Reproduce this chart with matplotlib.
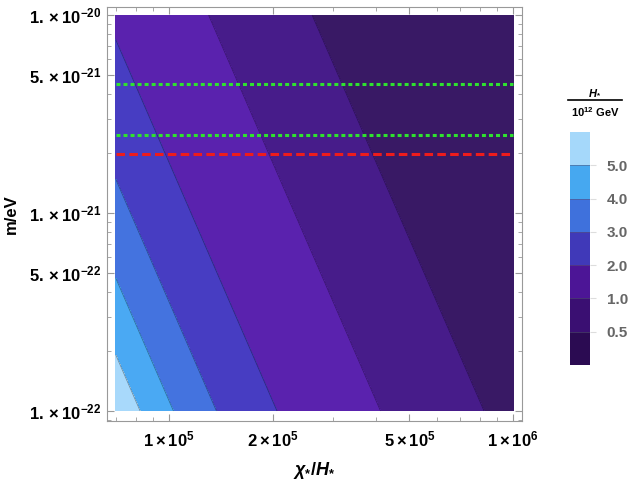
import numpy as np
import matplotlib
matplotlib.use("Agg")
import matplotlib.pyplot as plt
from matplotlib.lines import Line2D
from matplotlib.colors import ListedColormap, BoundaryNorm
from matplotlib.cm import ScalarMappable

plt.rcParams['font.family'] = ['Liberation Sans', 'DejaVu Sans']
plt.rcParams['mathtext.fontset'] = 'custom'
plt.rcParams['mathtext.rm'] = 'Liberation Sans:bold'
plt.rcParams['mathtext.bf'] = 'Liberation Sans:bold'
plt.rcParams['mathtext.it'] = 'Liberation Sans:bold:italic'
plt.rcParams['mathtext.default'] = 'bf'

# values
levels = [0.5, 1.0, 2.0, 3.0, 4.0, 5.0]
level_labels = ["0.5", "1.0", "2.0", "3.0", "4.0", "5.0"]
band_colors = ["#391965", "#471c8a", "#5a22ae", "#473dc2", "#4473df", "#4aa9f3", "#a8d9fb"]
cbar_colors = ["#2b0b52", "#3a0f72", "#4c1596", "#4039b8", "#3f71dc", "#46a8f0", "#a5d8fa"]
chi_range = [7.0e4, 1.0e6]
m_range = [1.0e-22, 1.0e-20]
# H_*/(10^12 GeV) = h_norm * (chi_*/H_*)^chi_power * (m / 1e-22 eV)^m_power
h_norm = 4.12e5
chi_power = -1.0
m_power = -0.25
green_lines = [4.46e-21, 2.47e-21]
red_lines = [1.98e-21]
xticks = [1e5, 2e5, 5e5, 1e6]
xticklabels = [r'$1\times10^{5}$', r'$2\times10^{5}$', r'$5\times10^{5}$', r'$1\times10^{6}$']
yticks = [1e-22, 5e-22, 1e-21, 5e-21, 1e-20]
yticklabels = [r'$1.\times10^{-22}$', r'$5.\times10^{-22}$', r'$1.\times10^{-21}$',
               r'$5.\times10^{-21}$', r'$1.\times10^{-20}$']

chi = np.logspace(np.log10(chi_range[0]), np.log10(chi_range[1]), 400)
m = np.logspace(np.log10(m_range[0]), np.log10(m_range[1]), 400)
CHI, M = np.meshgrid(chi, m)
H = h_norm * CHI**chi_power * (M / 1e-22)**m_power

fig = plt.figure(figsize=(6.36, 4.8), dpi=100)
ax = fig.add_axes([107/636, 59/480, 415/636, 414/480])

cs = ax.contourf(CHI, M, H, levels=[0.0] + levels + [100.0], colors=band_colors)
cl = ax.contour(CHI, M, H, levels=levels, colors='k', linewidths=0.6, alpha=0.35)

ax.hlines(green_lines, chi_range[0], chi_range[1], colors='#2fe22f',
          linestyles=(0, (1.3, 1.0)), linewidth=2.2)
ax.hlines(red_lines, chi_range[0], chi_range[1], colors='#ee1c1c',
          linestyles=(0, (2.8, 1.4)), linewidth=2.2)

ax.set_xscale('log')
ax.set_yscale('log')
ax.set_xlim(6.6e4, 1.062e6)
ax.set_ylim(8.9e-23, 1.098e-20)

ax.set_xticks(xticks)
ax.set_xticklabels(xticklabels)
ax.set_yticks(yticks)
ax.set_yticklabels(yticklabels)
ax.tick_params(which='both', direction='in', top=True, right=True, color='#999999')
ax.tick_params(which='major', length=5, labelsize=12, pad=4)
ax.tick_params(which='minor', length=3)
ax.tick_params(axis='x', which='major', pad=6)
ax.xaxis.set_minor_formatter(plt.NullFormatter())
ax.yaxis.set_minor_formatter(plt.NullFormatter())
for s in ax.spines.values():
    s.set_color('#999999')

ax.set_xlabel(r'$\mathit{\chi_{*}/H_{*}}$', fontsize=13, labelpad=8)
ax.set_ylabel('m/eV', fontsize=12, fontweight='bold', labelpad=7)

# legend bar
cax = fig.add_axes([570/636, 115/480, 20/636, 233/480])
n = len(cbar_colors)
sm = ScalarMappable(norm=BoundaryNorm(np.arange(n + 1), n), cmap=ListedColormap(cbar_colors))
cb = fig.colorbar(sm, cax=cax, ticks=np.arange(1, n))
cb.ax.set_yticklabels(level_labels)
cb.outline.set_visible(False)
cax.minorticks_off()
for k in range(1, n):
    cax.axhline(k, color='#555577', lw=0.6, alpha=0.6)
cax.tick_params(length=4, color='#dddddd', labelcolor='#666666', labelsize=11, pad=8)
for lab in cax.get_yticklabels():
    lab.set_fontweight('bold')

fig.text(595/636, 1 - 93/480, r'$\mathit{H_{*}}$', ha='center', va='center', fontsize=8)
fig.add_artist(Line2D([568/636, 622/636], [1 - 100/480, 1 - 100/480], color='k', lw=1.2))
fig.text(595/636, 1 - 112/480, r'$10^{12}$ GeV', ha='center', va='center', fontsize=8,
         fontweight='bold')

fig.savefig('out.png', dpi=100)
